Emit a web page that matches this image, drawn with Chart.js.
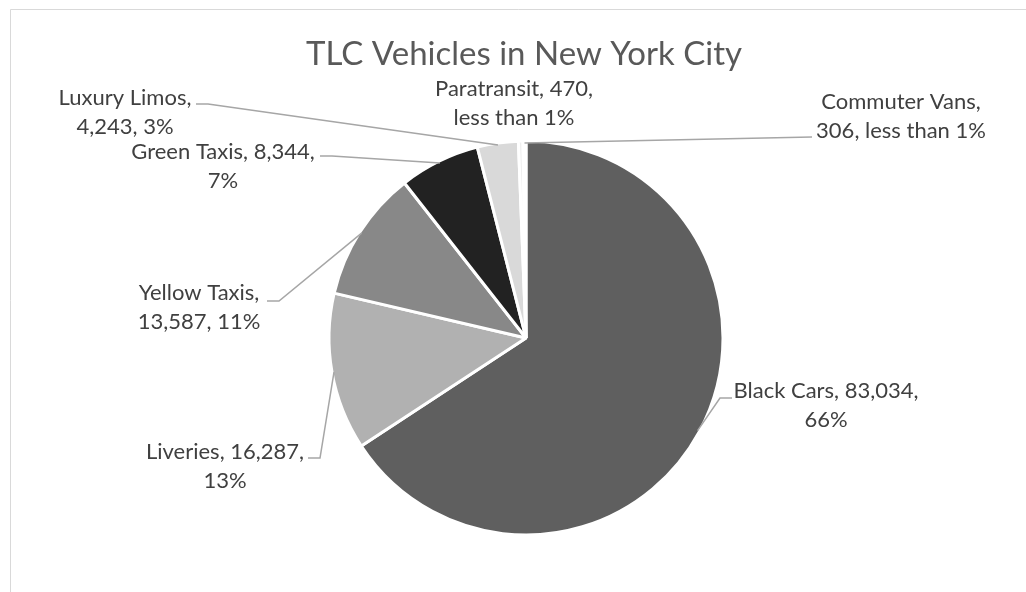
<!DOCTYPE html>
<html>
<head>
<meta charset="utf-8">
<script src="https://cdn.jsdelivr.net/npm/chart.js@4.4.1/dist/chart.umd.min.js"></script>
<style>
  html, body { margin: 0; padding: 0; background: #fff; }
  #wrap { width: 1026px; height: 592px; }
</style>
</head>
<body>
<div id="wrap"><canvas id="pie" width="1026" height="592"></canvas></div>
<script>
// data
const vehicleTypes = ['Black Cars', 'Liveries', 'Yellow Taxis', 'Green Taxis', 'Luxury Limos', 'Paratransit', 'Commuter Vans'];
const vehicleCounts = [83034, 16287, 13587, 8344, 4243, 470, 306];
const sliceColors = ['#5f5f5f', '#b1b1b1', '#888888', '#222222', '#d9d9d9', '#eeeeee', '#c9c9c9'];
const chartTitle = 'TLC Vehicles in New York City';

// how many of the label parts go on the first line
const firstLineParts = [2, 2, 1, 2, 1, 2, 1];
// label centres (first line) and where each leader line leaves the label
const labelPos = [[826, 391], [225, 452], [199, 293], [223, 152], [125, 98], [514, 89], [901, 102]];
const leaderFrom = [
  [[732, 398], [720, 398]],
  [[308, 458], [320, 458]],
  [[267, 301], [279, 301]],
  [[320, 156], [332, 156]],
  [[196, 104], [208, 104]],
  null,
  [[812, 137]]
];

const total = vehicleCounts.reduce((a, b) => a + b, 0);

function pctText(v) {
  const p = v / total * 100;
  return p < 1 ? 'less than 1%' : Math.round(p) + '%';
}

function labelLines(i) {
  const parts = [vehicleTypes[i], vehicleCounts[i].toLocaleString('en-US'), pctText(vehicleCounts[i])];
  const k = firstLineParts[i];
  return [parts.slice(0, k).join(', ') + ',', parts.slice(k).join(', ')];
}

const FONT = 'Lato, "Open Sans", sans-serif';

const decor = {
  id: 'decor',
  beforeDraw(chart) {
    const ctx = chart.ctx;
    ctx.save();
    ctx.fillStyle = '#fff';
    ctx.fillRect(0, 0, chart.width, chart.height);
    // chart frame (only top and left show)
    ctx.strokeStyle = '#d9d9d9';
    ctx.lineWidth = 1;
    ctx.beginPath();
    ctx.moveTo(10.5, chart.height);
    ctx.lineTo(10.5, 9.5);
    ctx.lineTo(chart.width, 9.5);
    ctx.stroke();
    // title
    ctx.fillStyle = '#595959';
    ctx.font = '33px ' + FONT;
    ctx.textAlign = 'center';
    ctx.textBaseline = 'middle';
    ctx.fillText(chartTitle, 524, 54);
    ctx.restore();
  },
  afterDraw(chart) {
    const ctx = chart.ctx;
    const arcs = chart.getDatasetMeta(0).data;
    ctx.save();
    // leader lines
    ctx.strokeStyle = '#a6a6a6';
    ctx.lineWidth = 1.5;
    arcs.forEach((arc, i) => {
      if (!leaderFrom[i]) return;
      const mid = (arc.startAngle + arc.endAngle) / 2;
      const r = arc.outerRadius - 2;
      const ex = arc.x + Math.cos(mid) * r;
      const ey = arc.y + Math.sin(mid) * r;
      ctx.beginPath();
      leaderFrom[i].forEach((p, j) => j ? ctx.lineTo(p[0], p[1]) : ctx.moveTo(p[0], p[1]));
      ctx.lineTo(ex, ey);
      ctx.stroke();
    });
    // labels
    ctx.fillStyle = '#404040';
    ctx.font = '22px ' + FONT;
    ctx.textAlign = 'center';
    ctx.textBaseline = 'middle';
    arcs.forEach((arc, i) => {
      const lines = labelLines(i);
      lines.forEach((t, j) => ctx.fillText(t, labelPos[i][0], labelPos[i][1] + j * 29));
    });
    ctx.restore();
  }
};

new Chart(document.getElementById('pie'), {
  type: 'pie',
  data: {
    labels: vehicleTypes,
    datasets: [{
      data: vehicleCounts,
      backgroundColor: sliceColors,
      borderColor: '#ffffff',
      borderWidth: 3,
      radius: 197
    }]
  },
  options: {
    responsive: false,
    animation: false,
    events: [],
    layout: { padding: { left: 26, right: 0, top: 100, bottom: 16 } },
    plugins: {
      legend: { display: false },
      title: { display: false },
      tooltip: { enabled: false }
    }
  },
  plugins: [decor]
});
</script>
</body>
</html>
